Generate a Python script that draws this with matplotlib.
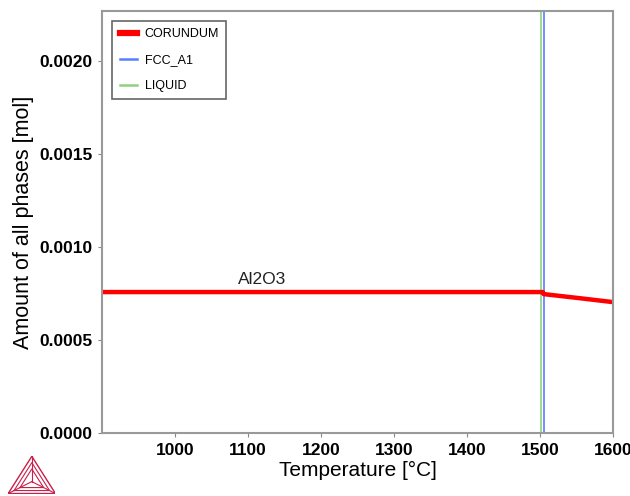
import matplotlib
matplotlib.use("Agg")
import matplotlib.pyplot as plt
from matplotlib.lines import Line2D

plt.rcParams['font.family'] = ['Liberation Sans', 'DejaVu Sans']

# amount of corundum (Al2O3) vs temperature
temp_corundum = [900, 1000, 1100, 1200, 1300, 1400, 1500, 1504, 1505, 1550, 1600]
amt_corundum = [0.000758, 0.000758, 0.000758, 0.000758, 0.000758, 0.000758,
                0.000758, 0.000758, 0.000747, 0.000727, 0.000704]

# FCC_A1 and LIQUID appear only as vertical lines at the transition
temp_fcc = [1505, 1505]
amt_fcc = [0.0, 0.00227]
temp_liquid = [1502, 1502]
amt_liquid = [0.0, 0.00227]

xticks = [1000, 1100, 1200, 1300, 1400, 1500, 1600]
yticks = [0.0, 0.0005, 0.0010, 0.0015, 0.0020]

fig = plt.figure(figsize=(6.3, 4.96), dpi=100)
ax = fig.add_axes([0.162, 0.127, 0.811, 0.851])

ax.plot(temp_liquid, amt_liquid, color='#8fd17e', lw=1.2)
ax.plot(temp_fcc, amt_fcc, color='#5b7cff', lw=1.2)
ax.plot(temp_corundum, amt_corundum, color='#ff0000', lw=3.2)

ax.text(1119, 0.000823, 'Al2O3', fontsize=12.5, ha='center', va='center', color='#222222')

ax.set_xlim(900, 1600)
ax.set_ylim(0, 0.00227)
ax.set_xticks(xticks)
ax.set_yticks(yticks)
ax.set_xticklabels([str(t) for t in xticks], fontsize=12.5, fontweight='bold')
ax.set_yticklabels(['%.4f' % t for t in yticks], fontsize=12.5, fontweight='bold')
ax.tick_params(length=3, color='#888888', pad=4)
for s in ax.spines.values():
    s.set_color('#999999')
    s.set_linewidth(1.5)

ax.set_xlabel('Temperature [°C]', fontsize=15, labelpad=2)
ax.set_ylabel('Amount of all phases [mol]', fontsize=15.5, labelpad=4)

handles = [Line2D([], [], color='#ff0000', lw=4.5),
           Line2D([], [], color='#5b7cff', lw=1.8),
           Line2D([], [], color='#8fd17e', lw=1.8)]
leg = ax.legend(handles, ['CORUNDUM', 'FCC_A1', 'LIQUID'], loc='upper left',
                fontsize=9, fancybox=False, framealpha=1, handlelength=1.4,
                handletextpad=0.6, borderaxespad=0.8, labelspacing=1.1,
                borderpad=0.6, bbox_to_anchor=(0.0, 1.0))
leg.get_frame().set_edgecolor('#666666')
leg.get_frame().set_linewidth(1.2)

# small triangle logo in the lower left corner
logo = fig.add_axes([0.013, 0.005, 0.075, 0.075])
logo.set_xlim(0, 1)
logo.set_ylim(0, 1)
logo.axis('off')
c = '#c8204a'
outer = [(0.0, 0.0), (1.0, 0.0), (0.5, 1.0), (0.0, 0.0)]
centre = (0.5, 0.32)
logo.plot([p[0] for p in outer], [p[1] for p in outer], color=c, lw=1)
for frac in (0.75, 0.5):
    pts = [(centre[0] + (x - centre[0]) * frac, centre[1] + (y - centre[1]) * frac) for x, y in outer]
    logo.plot([p[0] for p in pts], [p[1] for p in pts], color=c, lw=0.8)
for x, y in outer[:3]:
    logo.plot([x, centre[0]], [y, centre[1]], color=c, lw=0.8)

fig.savefig('out.png', dpi=100)
